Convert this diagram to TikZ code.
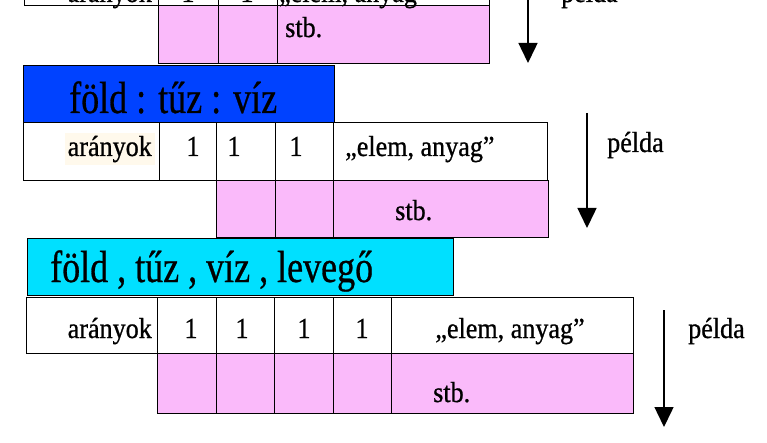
\documentclass[tikz,border=0pt]{standalone}
\usepackage{fontspec}
\setmainfont{Liberation Serif}
\newfontfamily\rowfontfamily{Liberation Serif}[FakeStretch=0.9, FakeBold=0.8]
\newfontfamily\headfontfamily{Liberation Serif}[FakeStretch=0.8, FakeBold=0.6]
\newcommand{\rowfont}{\rowfontfamily\fontsize{29}{32}\selectfont}
\newcommand{\headfont}{\headfontfamily\fontsize{45}{50}\selectfont}
\usetikzlibrary{arrows.meta, positioning}

\definecolor{headblue}{RGB}{0,66,255}
\definecolor{headcyan}{RGB}{0,224,255}
\definecolor{cellpink}{RGB}{250,186,250}
\definecolor{cream}{RGB}{255,249,236}

\begin{document}
\begin{tikzpicture}[
    x=1pt, y=-1pt,
    cell/.style={draw, line width=1.3pt, fill=white, inner sep=0pt, anchor=north west},
    pinkcell/.style={cell, fill=cellpink},
    head/.style={cell, minimum height=57pt},
    txt/.style={inner sep=0pt, font=\rowfont},
    headtxt/.style={inner sep=0pt, font=\headfont, anchor=base west},
    arrow/.style={line width=1.5pt, -{Triangle[length=20pt, width=19pt]}}
]
\useasboundingbox (0,0) rectangle (767,443);
\clip (0,0) rectangle (767,443);

% first block (cut off at the top)
\node[cell, minimum width=134pt, minimum height=55pt] (r0a) at (24,-50) {};
\node[cell, minimum width=60pt, minimum height=55pt] (r0b) at (158,-50) {};
\node[cell, minimum width=59pt, minimum height=55pt] (r0c) at (218,-50) {};
\node[cell, minimum width=212pt, minimum height=55pt] (r0d) at (277,-50) {};
\node[pinkcell, minimum width=60pt, minimum height=58pt] (p0a) at (158,5) {};
\node[pinkcell, minimum width=59pt, minimum height=58pt] (p0b) at (218,5) {};
\node[pinkcell, minimum width=212pt, minimum height=58pt] (p0c) at (277,5) {};

\node[txt, anchor=base east] (t0a) at (152,2) {arányok};
\node[txt, anchor=base] (t0b) at (188,2) {1};
\node[txt, anchor=base] (t0c) at (247,2) {1};
\node[txt, anchor=base west] (t0d) at (279,2) {„elem, anyag”};
\node[txt, anchor=base west] (s0) at (285,37) {stb.};
\node[txt, anchor=base west] (e0) at (561,2) {példa};
\coordinate (a0s) at (528,-50);
\coordinate (a0e) at (528,63);
\draw[arrow] (a0s) -- (a0e);

% second block
\node[head, fill=headblue, minimum width=311pt] (h1) at (23,65) {};
\node[headtxt] (h1t) at (69,113) {föld : tűz : víz};

\node[cell, minimum width=136pt, minimum height=58pt] (r1a) at (23,122) {};
\node[cell, minimum width=57pt, minimum height=58pt] (r1b) at (159,122) {};
\node[cell, minimum width=59pt, minimum height=58pt] (r1c) at (216,122) {};
\node[cell, minimum width=58pt, minimum height=58pt] (r1d) at (275,122) {};
\node[cell, minimum width=214pt, minimum height=58pt] (r1e) at (333,122) {};
\node[pinkcell, minimum width=59pt, minimum height=57pt] (p1a) at (216,180) {};
\node[pinkcell, minimum width=58pt, minimum height=57pt] (p1b) at (275,180) {};
\node[pinkcell, minimum width=215pt, minimum height=57pt] (p1c) at (333,180) {};

\node[txt, anchor=base east, fill=cream, inner sep=3pt] (t1a) at (155,156) {arányok};
\node[txt, anchor=base] (t1b) at (193,156) {1};
\node[txt, anchor=base] (t1c) at (234,156) {1};
\node[txt, anchor=base] (t1d) at (296,156) {1};
\node[txt, anchor=base west] (t1e) at (345,156) {„elem, anyag”};
\node[txt, anchor=base west] (s1) at (395,220) {stb.};
\node[txt, anchor=base west] (e1) at (607,152) {példa};
\coordinate (a1s) at (587,113);
\coordinate (a1e) at (587,228);
\draw[arrow] (a1s) -- (a1e);

% third block
\node[head, fill=headcyan, minimum width=426pt] (h2) at (27,238) {};
\node[headtxt] (h2t) at (50,282) {föld , tűz , víz , levegő};

\node[cell, minimum width=131pt, minimum height=56pt] (r2a) at (26,297) {};
\node[cell, minimum width=59pt, minimum height=56pt] (r2b) at (157,297) {};
\node[cell, minimum width=58pt, minimum height=56pt] (r2c) at (216,297) {};
\node[cell, minimum width=59pt, minimum height=56pt] (r2d) at (274,297) {};
\node[cell, minimum width=58pt, minimum height=56pt] (r2e) at (333,297) {};
\node[cell, minimum width=242pt, minimum height=56pt] (r2f) at (391,297) {};
\node[pinkcell, minimum width=59pt, minimum height=60pt] (p2a) at (157,353) {};
\node[pinkcell, minimum width=58pt, minimum height=60pt] (p2b) at (216,353) {};
\node[pinkcell, minimum width=59pt, minimum height=60pt] (p2c) at (274,353) {};
\node[pinkcell, minimum width=58pt, minimum height=60pt] (p2d) at (333,353) {};
\node[pinkcell, minimum width=242pt, minimum height=60pt] (p2e) at (391,353) {};

\node[txt, anchor=base east] (t2a) at (152,338) {arányok};
\node[txt, anchor=base] (t2b) at (191,338) {1};
\node[txt, anchor=base] (t2c) at (242,338) {1};
\node[txt, anchor=base] (t2d) at (304,338) {1};
\node[txt, anchor=base] (t2e) at (362,338) {1};
\node[txt, anchor=base] (t2f) at (510,338) {„elem, anyag”};
\node[txt, anchor=base west] (s2) at (433,402) {stb.};
\node[txt, anchor=base west] (e2) at (688,338) {példa};
\coordinate (a2s) at (664,310);
\coordinate (a2e) at (664,427);
\draw[arrow] (a2s) -- (a2e);

\end{tikzpicture}
\end{document}
